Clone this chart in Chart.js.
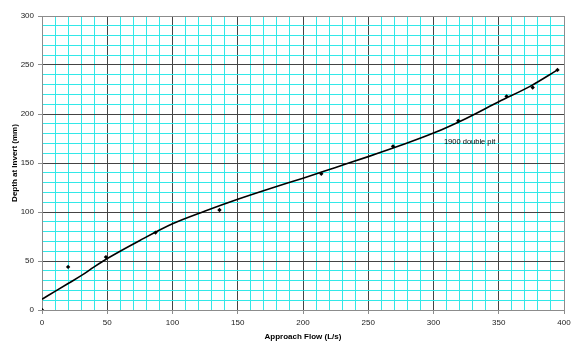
<!DOCTYPE html>
<html>
<head>
<meta charset="utf-8">
<script src="https://cdn.jsdelivr.net/npm/chart.js@4"></script>
<style>
  html, body { margin: 0; padding: 0; background: #fff; }
  #wrap { width: 575px; height: 353px; }
</style>
</head>
<body>
<div id="wrap"><canvas id="chart" width="575" height="353"></canvas></div>
<script>
// measured points
const flowX = [0, 20, 49, 87, 136, 214, 269, 319, 356, 376, 395];
const depthY = [0, 44, 54, 79, 102, 139, 167, 193, 218, 227, 245];

// trend curve
const trendX = [0, 10, 20, 30, 40, 50, 75, 100, 125, 150, 175, 200, 225, 250, 275, 300, 325, 350, 375, 395];
const trendY = [11, 19, 27, 35, 44, 52.5, 71, 88, 101, 113, 124, 134.5, 145.5, 156.5, 168, 180.5, 195.5, 212.5, 229, 245];

const seriesLabel = "1900 double pit";
const labelAt = { x: 308, y: 171.5 };

const xTitle = "Approach Flow (L/s)";
const yTitle = "Depth at Invert (mm)";

const FONT = "'Liberation Sans', Arial, sans-serif";

const measured = flowX.map((x, i) => ({ x, y: depthY[i] }));
const trend = trendX.map((x, i) => ({ x, y: trendY[i] }));

function gridColor(ctx, max) {
  const v = ctx.tick ? ctx.tick.value : 0;
  if (v === max || v === 0) return "#8c8c8c";
  return v % 50 === 0 ? "#444444" : "#33e8e8";
}

// text label next to the curve
const seriesText = {
  id: "seriesText",
  afterDatasetsDraw(chart) {
    const { ctx, scales } = chart;
    ctx.save();
    ctx.font = "7.5px " + FONT;
    ctx.fillStyle = "#000";
    ctx.textBaseline = "middle";
    ctx.textAlign = "left";
    ctx.fillText(seriesLabel, scales.x.getPixelForValue(labelAt.x), scales.y.getPixelForValue(labelAt.y));
    ctx.restore();
  }
};

new Chart(document.getElementById("chart"), {
  type: "scatter",
  data: {
    datasets: [
      {
        label: "trend",
        data: trend,
        showLine: true,
        borderColor: "#000",
        borderWidth: 1.6,
        pointRadius: 0,
        cubicInterpolationMode: "monotone"
      },
      {
        label: "points",
        data: measured,
        pointStyle: "rectRot",
        pointRadius: 2.2,
        backgroundColor: "#000",
        borderColor: "#000",
        borderWidth: 0
      }
    ]
  },
  options: {
    responsive: false,
    animation: false,
    layout: { padding: { top: 16, right: 11, left: 0, bottom: 0 } },
    plugins: { legend: { display: false }, tooltip: { enabled: false } },
    scales: {
      x: {
        type: "linear",
        min: 0,
        max: 400,
        afterFit(s) { s.height = 43; },
        border: { display: true, color: "#8c8c8c" },
        grid: {
          color: c => gridColor(c, 400),
          tickColor: c => (c.tick && c.tick.value % 50 === 0 ? "#8c8c8c" : "rgba(0,0,0,0)"),
          tickLength: 4
        },
        ticks: {
          stepSize: 10,
          autoSkip: false,
          maxRotation: 0,
          padding: 4,
          color: "#222",
          font: { family: FONT, size: 8 },
          callback: v => (v % 50 === 0 ? v : "")
        },
        title: {
          display: true,
          text: xTitle,
          color: "#000",
          font: { family: FONT, size: 8, weight: "bold" },
          padding: { top: 3, bottom: 11 }
        }
      },
      y: {
        type: "linear",
        min: 0,
        max: 300,
        afterFit(s) { s.width = 42; },
        border: { display: true, color: "#8c8c8c" },
        grid: {
          color: c => gridColor(c, 300),
          tickColor: c => (c.tick && c.tick.value % 50 === 0 ? "#8c8c8c" : "rgba(0,0,0,0)"),
          tickLength: 4
        },
        ticks: {
          stepSize: 10,
          autoSkip: false,
          padding: 4,
          color: "#222",
          font: { family: FONT, size: 8 },
          callback: v => (v % 50 === 0 ? v : "")
        },
        title: {
          display: true,
          text: yTitle,
          color: "#000",
          font: { family: FONT, size: 8, weight: "bold" },
          padding: { top: 10, bottom: 2 }
        }
      }
    }
  },
  plugins: [seriesText]
});
</script>
</body>
</html>
